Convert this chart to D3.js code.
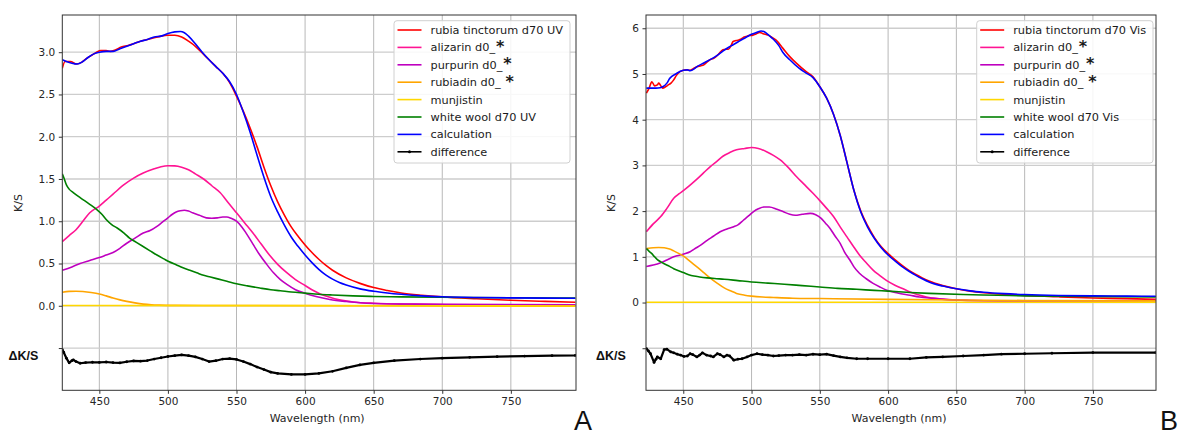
<!DOCTYPE html>
<html><head><meta charset="utf-8">
<script src="https://cdn.jsdelivr.net/npm/d3@7"></script>
<style>
html,body{margin:0;padding:0;background:#fff;}
svg{display:block;font-family:"DejaVu Sans",sans-serif;}
</style></head>
<body>
<svg id="c" width="1178" height="433"></svg>
<script>
// ---------- DATA (wavelength nm, K/S) ----------
const seriesNamesUV  = ["rubia tinctorum d70 UV","alizarin d0_","purpurin d0_","rubiadin d0_","munjistin","white wool d70 UV","calculation","difference"];
const seriesNamesVis = ["rubia tinctorum d70 Vis","alizarin d0_","purpurin d0_","rubiadin d0_","munjistin","white wool d70 Vis","calculation","difference"];
const seriesColors = ["#ff0000","#ff1493","#bf00bf","#ffa500","#ffd700","#008000","#0000ff","#000000"];
const xTicks = [450,500,550,600,650,700,750];
const yTicksUV = [-0.5,0,0.5,1,1.5,2,2.5,3];
const yTicksVis = [-1,0,1,2,3,4,5,6];

const uvRubia = [[423,2.81],[425,2.89],[429,2.89],[433,2.86],[437,2.88],[441,2.93],[445,2.97],[448,3.0],[451,3.02],[455,3.02],[458,3.01],[462,3.03],[466,3.06],[471,3.08],[475,3.1],[480,3.13],[485,3.15],[490,3.17],[495,3.19],[500,3.2],[505,3.2],[510,3.18],[515,3.13],[520,3.07],[525,2.99],[530,2.91],[535,2.83],[540,2.75],[545,2.64],[550,2.48],[555,2.3],[560,2.1],[565,1.88],[570,1.64],[575,1.42],[580,1.23],[585,1.07],[590,0.93],[595,0.82],[600,0.72],[605,0.63],[610,0.55],[615,0.48],[620,0.42],[630,0.33],[640,0.265],[650,0.215],[660,0.18],[670,0.152],[685,0.125],[700,0.105],[725,0.083],[750,0.065],[775,0.052],[797,0.042]];
const uvAlizarin = [[423,0.76],[428,0.83],[433,0.9],[438,1.0],[443,1.1],[450,1.18],[455,1.25],[460,1.32],[467,1.42],[475,1.51],[482,1.57],[490,1.62],[495,1.645],[500,1.657],[505,1.655],[510,1.64],[515,1.61],[520,1.56],[526,1.5],[532,1.42],[538,1.34],[544,1.22],[550,1.1],[556,0.98],[562,0.86],[568,0.73],[574,0.6],[580,0.49],[586,0.4],[593,0.31],[600,0.24],[606,0.18],[611,0.14],[618,0.1],[625,0.07],[635,0.045],[650,0.03],[680,0.02],[720,0.014],[760,0.012],[797,0.01]];
const uvPurpurin = [[423,0.42],[430,0.46],[436,0.5],[443,0.535],[450,0.57],[455,0.6],[460,0.63],[465,0.68],[470,0.74],[476,0.8],[482,0.86],[487,0.89],[492,0.94],[496,0.99],[500,1.04],[503,1.08],[506,1.11],[509,1.125],[512,1.13],[515,1.12],[518,1.1],[523,1.07],[528,1.04],[532,1.035],[536,1.04],[540,1.05],[543,1.05],[546,1.035],[550,1.0],[554,0.93],[557,0.86],[562,0.73],[567,0.6],[572,0.49],[577,0.39],[582,0.31],[587,0.25],[593,0.19],[600,0.148],[608,0.11],[618,0.075],[630,0.05],[645,0.03],[670,0.02],[720,0.015],[797,0.012]];
const uvRubiadin = [[423,0.16],[428,0.17],[433,0.172],[438,0.168],[444,0.157],[450,0.14],[455,0.117],[460,0.092],[465,0.07],[470,0.052],[476,0.034],[482,0.02],[488,0.012],[494,0.008],[505,0.005],[550,0.003],[650,0.0],[797,-0.006]];
const uvMunjistin = [[423,0.003],[600,0.002],[797,-0.003]];
const uvWool = [[423,1.56],[424,1.52],[426,1.43],[428,1.38],[431,1.34],[436,1.28],[443,1.2],[448,1.14],[452,1.08],[455,1.02],[459,0.96],[463,0.92],[468,0.86],[472,0.8],[477,0.75],[482,0.7],[487,0.65],[492,0.6],[497,0.555],[501,0.52],[506,0.485],[511,0.45],[516,0.42],[521,0.39],[526,0.36],[531,0.34],[537,0.315],[543,0.29],[550,0.26],[558,0.235],[567,0.21],[575,0.19],[582,0.178],[590,0.163],[600,0.15],[610,0.137],[620,0.128],[635,0.117],[650,0.11],[670,0.105],[700,0.1],[750,0.095],[797,0.092]];
const uvCalc = [[423,2.91],[426,2.89],[430,2.87],[434,2.86],[438,2.89],[442,2.94],[446,2.98],[450,3.0],[455,3.01],[460,3.01],[465,3.04],[470,3.07],[475,3.1],[480,3.13],[485,3.15],[490,3.18],[495,3.19],[500,3.22],[505,3.24],[509,3.245],[512,3.23],[515,3.19],[520,3.1],[525,3.0],[530,2.91],[535,2.83],[540,2.75],[545,2.65],[550,2.5],[555,2.29],[560,2.05],[565,1.78],[570,1.52],[575,1.29],[580,1.11],[585,0.95],[590,0.81],[595,0.7],[600,0.6],[605,0.51],[610,0.43],[615,0.365],[620,0.315],[625,0.275],[630,0.245],[640,0.2],[650,0.172],[660,0.152],[670,0.136],[685,0.117],[700,0.106],[725,0.097],[750,0.093],[775,0.09],[797,0.089]];
const uvDiff = [[423,-0.52],[424,-0.55],[426,-0.62],[428,-0.675],[430,-0.65],[431,-0.64],[433,-0.66],[436,-0.68],[440,-0.672],[445,-0.668],[450,-0.67],[455,-0.665],[460,-0.672],[465,-0.676],[470,-0.662],[475,-0.652],[480,-0.655],[485,-0.648],[490,-0.63],[495,-0.615],[500,-0.6],[505,-0.59],[510,-0.58],[515,-0.59],[520,-0.605],[525,-0.63],[530,-0.66],[535,-0.65],[540,-0.63],[545,-0.625],[550,-0.635],[555,-0.66],[560,-0.69],[565,-0.725],[570,-0.755],[575,-0.785],[580,-0.8],[590,-0.812],[600,-0.812],[610,-0.8],[620,-0.775],[630,-0.735],[640,-0.7],[650,-0.675],[665,-0.65],[684,-0.63],[700,-0.62],[720,-0.61],[740,-0.602],[760,-0.595],[780,-0.59],[797,-0.588]];

const visRubia = [[423,4.58],[425,4.69],[427,4.83],[429,4.74],[431,4.76],[432,4.8],[434,4.72],[435,4.69],[437,4.72],[439,4.76],[441,4.8],[443,4.87],[445,4.97],[447.5,5.05],[450,5.08],[452,5.09],[455,5.08],[457,5.11],[460,5.16],[463,5.18],[465,5.2],[467,5.25],[469.5,5.31],[472,5.34],[474,5.38],[476,5.44],[479,5.53],[481,5.54],[483,5.54],[485,5.62],[486.5,5.71],[490,5.74],[492,5.76],[494,5.8],[496,5.82],[498,5.84],[501,5.85],[503,5.87],[506,5.91],[508.5,5.88],[512,5.85],[515,5.8],[518,5.74],[523,5.56],[528,5.38],[533,5.23],[540,5.05],[545,4.94],[550,4.72],[555,4.47],[560,4.12],[565,3.65],[570,3.05],[575,2.45],[580,2.0],[585,1.68],[590,1.42],[595,1.22],[600,1.07],[605,0.94],[610,0.82],[615,0.71],[620,0.62],[625,0.54],[630,0.47],[640,0.37],[650,0.3],[660,0.25],[670,0.215],[685,0.18],[700,0.155],[725,0.125],[750,0.1],[775,0.085],[796,0.07]];
const visAlizarin = [[423,1.55],[428,1.72],[433.5,1.88],[438,2.06],[443,2.28],[447,2.38],[450.5,2.46],[455,2.57],[460,2.7],[465,2.84],[470,2.98],[475,3.1],[479,3.2],[484,3.28],[489,3.34],[495,3.37],[500,3.39],[505,3.37],[511,3.3],[516,3.22],[521,3.12],[527,2.95],[533,2.75],[538,2.6],[545,2.39],[550,2.23],[555,2.06],[560,1.88],[565,1.65],[570,1.43],[575,1.21],[579,1.04],[584,0.87],[589,0.71],[594,0.59],[599,0.48],[605,0.38],[611,0.3],[616,0.23],[622,0.17],[628,0.12],[640,0.075],[650,0.055],[670,0.04],[700,0.036],[750,0.04],[796,0.045]];
const visPurpurin = [[423,0.79],[428,0.82],[433.5,0.87],[438,0.93],[443,1.0],[450.5,1.06],[455,1.11],[458,1.17],[463,1.26],[467.5,1.36],[472,1.45],[477,1.55],[482,1.61],[487,1.66],[490,1.7],[494,1.8],[498,1.9],[501.5,1.99],[505,2.05],[509,2.09],[513,2.09],[518.6,2.04],[523,1.99],[528,1.93],[532,1.91],[537,1.93],[543,1.95],[547,1.92],[551,1.84],[554,1.74],[557.5,1.62],[561,1.46],[565,1.29],[568,1.11],[572,0.93],[575,0.78],[579,0.64],[584,0.52],[589,0.42],[594,0.34],[599,0.27],[607,0.21],[616,0.16],[623,0.12],[633,0.09],[642,0.066],[660,0.045],[683,0.036],[720,0.035],[796,0.04]];
const visRubiadin = [[423,1.18],[428,1.2],[432,1.205],[436,1.2],[440,1.17],[443,1.13],[447,1.07],[450.5,1.01],[455,0.9],[460,0.78],[465,0.655],[470,0.53],[475,0.42],[480,0.32],[485,0.25],[489,0.2],[495,0.16],[500,0.14],[508,0.12],[516,0.11],[530,0.095],[550,0.088],[600,0.07],[650,0.055],[700,0.045],[796,0.036]];
const visMunjistin = [[423,0.005],[600,0.005],[796,0.005]];
const visWool = [[423,1.18],[425,1.12],[427,1.07],[429,1.0],[431,0.94],[433.5,0.89],[436,0.85],[440,0.79],[443,0.74],[447,0.69],[450.5,0.65],[454,0.61],[457.8,0.58],[462,0.56],[467.5,0.54],[473,0.525],[480,0.51],[490,0.48],[500,0.45],[512,0.425],[524,0.4],[537,0.37],[550,0.34],[563,0.31],[577,0.29],[590,0.265],[600,0.25],[616,0.22],[630,0.2],[655,0.175],[680,0.16],[700,0.146],[750,0.135],[796,0.124]];
const visCalc = [[423,4.69],[426,4.69],[430,4.69],[433,4.7],[435,4.72],[438,4.8],[440,4.9],[445,5.01],[450,5.08],[453,5.09],[455,5.07],[458,5.11],[460,5.16],[465,5.24],[470,5.32],[474,5.39],[479,5.5],[483,5.58],[486.5,5.64],[490,5.7],[494,5.77],[497,5.82],[500,5.87],[504,5.91],[507,5.94],[509,5.93],[511,5.89],[513,5.84],[516,5.76],[520,5.62],[523,5.47],[528,5.31],[535,5.12],[540,5.02],[545,4.92],[550,4.72],[555,4.47],[560,4.12],[565,3.65],[570,3.05],[575,2.45],[580,1.98],[585,1.65],[590,1.4],[595,1.2],[600,1.04],[605,0.91],[610,0.79],[615,0.69],[620,0.6],[625,0.52],[630,0.45],[640,0.36],[650,0.3],[660,0.255],[670,0.225],[685,0.195],[700,0.175],[725,0.155],[750,0.145],[775,0.14],[796,0.138]];
const visDiff = [[423,-1.01],[424.5,-1.06],[426,-1.12],[428.6,-1.31],[430,-1.24],[431,-1.19],[433.5,-1.23],[436,-1.03],[438,-1.02],[440.8,-1.08],[443,-1.1],[445.6,-1.13],[448,-1.15],[450.5,-1.18],[453,-1.17],[455,-1.12],[457,-1.14],[460,-1.19],[462,-1.15],[464,-1.1],[467,-1.15],[470,-1.17],[472,-1.19],[475,-1.12],[477,-1.14],[479.7,-1.19],[482,-1.15],[484,-1.17],[487,-1.26],[490,-1.24],[493,-1.23],[496.7,-1.19],[500,-1.15],[504,-1.12],[508,-1.14],[512,-1.15],[516,-1.17],[520,-1.16],[525,-1.15],[530,-1.15],[535,-1.14],[540,-1.15],[545,-1.13],[550,-1.14],[555,-1.13],[560,-1.16],[565,-1.19],[570,-1.21],[577,-1.23],[585,-1.23],[600,-1.23],[616,-1.23],[628,-1.2],[640,-1.19],[655,-1.17],[670,-1.15],[683,-1.13],[700,-1.12],[720,-1.11],[750,-1.095],[796,-1.095]];

// ---------- LAYOUT ----------
const panels = [
  {x0:62.3,x1:576,y0:15,y1:390.3,xDom:[423,797.5],yDom:[-1.0,3.44],yTicks:yTicksUV,
   fmt:d=>d<0?"":d.toFixed(1), names:seriesNamesUV,
   data:[uvRubia,uvAlizarin,uvPurpurin,uvRubiadin,uvMunjistin,uvWool,uvCalc,uvDiff],
   leg:{x:394,y:20.7,w:176,h:142.3}, ylabX:21.5, dX:8.5, letter:"A", letterX:574},
  {x0:646,x1:1156,y0:15,y1:390.3,xDom:[422.7,796.2],yDom:[-1.92,6.29],yTicks:yTicksVis,
   fmt:d=>d<0?"":String(d), names:seriesNamesVis,
   data:[visRubia,visAlizarin,visPurpurin,visRubiadin,visMunjistin,visWool,visCalc,visDiff],
   leg:{x:976.7,y:20.7,w:176.3,h:142.3}, ylabX:614.5, dX:596, letter:"B", letterX:1160}
];
const starGap = {1:1,2:1,3:5}; // rubiadin has a gap before *

const svg = d3.select("#c");
panels.forEach(p=>{
  const x = d3.scaleLinear().domain(p.xDom).range([p.x0,p.x1]);
  const y = d3.scaleLinear().domain(p.yDom).range([p.y1,p.y0]);
  const g = svg.append("g");
  // grid
  g.append("g").selectAll("line").data(xTicks).join("line")
    .attr("x1",d=>x(d)).attr("x2",d=>x(d)).attr("y1",p.y0).attr("y2",p.y1)
    .attr("stroke","#b8b8b8").attr("stroke-width",1);
  g.append("g").selectAll("line").data(p.yTicks).join("line")
    .attr("x1",p.x0).attr("x2",p.x1).attr("y1",d=>y(d)).attr("y2",d=>y(d))
    .attr("stroke","#cdcdcd").attr("stroke-width",1.3);
  // clip
  const cid = "clip"+p.letter;
  svg.append("clipPath").attr("id",cid).append("rect")
    .attr("x",p.x0).attr("y",p.y0).attr("width",p.x1-p.x0).attr("height",p.y1-p.y0);
  const lineGen = d3.line().x(d=>x(d[0])).y(d=>y(d[1])).curve(d3.curveMonotoneX);
  const lg = g.append("g").attr("clip-path",`url(#${cid})`);
  p.data.forEach((ser,i)=>{
    if(i===7){
      lg.append("path").datum(ser).attr("d",d3.line().x(d=>x(d[0])).y(d=>y(d[1])))
        .attr("fill","none").attr("stroke","#000").attr("stroke-width",2.2).attr("stroke-linejoin","round");
      lg.append("g").selectAll("circle").data(ser).join("circle")
        .attr("cx",d=>x(d[0])).attr("cy",d=>y(d[1])).attr("r",1.4).attr("fill","#000");
    } else {
      lg.append("path").datum(ser).attr("d",lineGen)
        .attr("fill","none").attr("stroke",seriesColors[i]).attr("stroke-width",1.6)
        .attr("stroke-linejoin","round");
    }
  });
  // axes
  const xa = d3.axisBottom(x).tickValues(xTicks).tickSize(3.5).tickPadding(3.5).tickFormat(d3.format("d"));
  const ya = d3.axisLeft(y).tickValues(p.yTicks).tickSize(3.5).tickPadding(3.5).tickFormat(p.fmt);
  const gx = g.append("g").attr("transform",`translate(0,${p.y1})`).call(xa);
  const gy = g.append("g").attr("transform",`translate(${p.x0},0)`).call(ya);
  [gx,gy].forEach(a=>{
    a.select(".domain").remove();
    a.selectAll("line").attr("stroke","#333");
    a.selectAll("text").attr("fill","#262626").style("font-size","10.5px").style("font-family","DejaVu Sans");
  });
  // frame
  g.append("rect").attr("x",p.x0).attr("y",p.y0).attr("width",p.x1-p.x0).attr("height",p.y1-p.y0)
    .attr("fill","none").attr("stroke","#333").attr("stroke-width",1);
  // labels
  g.append("text").attr("x",(p.x0+p.x1)/2-2).attr("y",422).attr("text-anchor","middle")
    .style("font-size","11px").attr("fill","#262626").text("Wavelength (nm)");
  g.append("text").attr("transform",`translate(${p.ylabX},203) rotate(-90)`).attr("text-anchor","middle")
    .style("font-size","11px").attr("fill","#262626").text("K/S");
  g.append("text").attr("x",p.dX).attr("y",359.5)
    .style("font-family","Liberation Sans, Arial, sans-serif").style("font-weight","bold")
    .style("font-size","12.5px").attr("fill","#111").text("\u0394K/S");
  g.append("text").attr("x",p.letterX).attr("y",430)
    .style("font-family","Liberation Sans, Arial, sans-serif")
    .style("font-size","27px").attr("fill","#111").text(p.letter);
  // legend
  const L = p.leg;
  g.append("rect").attr("x",L.x).attr("y",L.y).attr("width",L.w).attr("height",L.h).attr("rx",3)
    .attr("fill","#fff").attr("fill-opacity",0.85).attr("stroke","#d0d0d0").attr("stroke-width",1);
  p.names.forEach((nm,i)=>{
    const cy = 30 + i*17.4;
    g.append("line").attr("x1",L.x+3.5).attr("x2",L.x+27.5).attr("y1",cy).attr("y2",cy)
      .attr("stroke",seriesColors[i]).attr("stroke-width",1.6);
    if(i===7) g.append("circle").attr("cx",L.x+15.5).attr("cy",cy).attr("r",1.5).attr("fill","#000");
    const t = g.append("text").attr("x",L.x+36.5).attr("y",cy+4)
      .style("font-size","11.3px").attr("fill","#1a1a1a");
    t.append("tspan").text(nm);
    if(i>=1 && i<=3){
      t.append("tspan").attr("dx", starGap[i]).attr("dy",0.5).style("font-size","16px").style("font-weight","bold").text("*");
    }
  });
});
</script>
</body></html>
